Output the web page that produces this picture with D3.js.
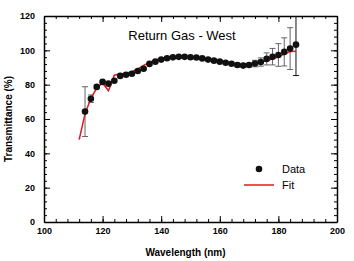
<!DOCTYPE html>
<html>
<head>
<meta charset="utf-8">
<script src="https://cdn.jsdelivr.net/npm/d3@7"></script>
<style>
  body { margin: 0; background: #fff; }
  svg { display: block; font-family: "Liberation Sans", Arial, sans-serif; }
  .axis text { font-weight: bold; font-size: 9px; fill: #000; }
  .axis path, .axis line { stroke: #000; }
</style>
</head>
<body>
<div id="chart"></div>
<script>
//measured points//
var wavelength = [114, 116, 118, 120, 122, 124, 126, 128, 130, 132, 134, 136, 138, 140, 142, 144, 146, 148, 150,
  152, 154, 156, 158, 160, 162, 164, 166, 168, 170, 172, 174, 176, 178, 180, 182, 184, 186];
var transmittance = [64.3, 71.8, 78.7, 81.6, 80.6, 82.3, 85.1, 85.8, 86.4, 88.0, 89.3, 92.1, 93.4, 94.6, 95.4, 95.9, 96.2, 96.2, 96.0,
  95.8, 95.3, 94.6, 94.0, 93.4, 92.8, 92.2, 91.5, 91.1, 91.5, 92.3, 93.2, 95.0, 96.3, 97.3, 99.1, 101.0, 103.3];
var errors = [14.5, 2.2, 0.8, 0.5, 0.5, 0.5, 0.5, 0.5, 0.5, 0.5, 0.5, 0.5, 0.5, 0.5, 0.5, 0.5, 0.5, 0.5, 0.5,
  0.5, 0.5, 0.5, 0.5, 0.5, 0.5, 0.5, 1.0, 1.0, 1.0, 1.9, 2.4, 3.5, 4.8, 6.6, 8.2, 12.2, 18];

//fit curve//
var fitWavelength = [112, 114, 116, 118, 120, 122, 124, 126, 128, 130, 132, 134, 136, 138, 140, 142, 144, 146, 148, 150,
  152, 154, 156, 158, 160, 162, 164, 166, 168, 170, 172, 174, 176, 178, 180, 182, 184, 186];
var fitValues = [48, 63, 72, 78, 81, 76.5, 85.5, 86.2, 86.7, 87.5, 89.2, 91.2, 93, 94.4, 95.3, 95.9, 96.2, 96.3, 96.2, 96.0,
  95.6, 95.0, 94.4, 93.8, 93.2, 92.6, 92.1, 91.6, 91.4, 91.6, 92.2, 93.0, 94.0, 95.0, 96.2, 97.8, 99.3, 99.4];

var xTicks = [100, 120, 140, 160, 180, 200];
var yTicks = [0, 20, 40, 60, 80, 100, 120];
var legendLabels = ["Data", "Fit"];

var w = 354;
var h = 261;
var margin = {top: 16, right: 17, bottom: 39, left: 44};
var iw = w - margin.left - margin.right;
var ih = h - margin.top - margin.bottom;

var svg = d3.select("#chart")
  .append("svg")
  .attr("width", w)
  .attr("height", h);

var g = svg.append("g")
  .attr("transform", "translate(" + margin.left + "," + margin.top + ")");

var x = d3.scaleLinear().domain([100, 200]).range([0, iw]);
var y = d3.scaleLinear().domain([0, 120]).range([ih, 0]);

g.append("clipPath").attr("id", "clip")
  .append("rect").attr("width", iw).attr("height", ih);

//minor ticks every 4 units, on all four sides, pointing in//
var minorX = d3.range(100, 201, 4);
var minorY = d3.range(0, 121, 4);

g.append("g").attr("class", "axis")
  .attr("transform", "translate(0," + ih + ")")
  .call(d3.axisBottom(x).tickValues(minorX).tickSize(-3).tickFormat(""))
  .call(function(s) { s.select(".domain").remove(); });
g.append("g").attr("class", "axis")
  .call(d3.axisTop(x).tickValues(minorX).tickSize(-3).tickFormat(""))
  .call(function(s) { s.select(".domain").remove(); });
g.append("g").attr("class", "axis")
  .call(d3.axisLeft(y).tickValues(minorY).tickSize(-3).tickFormat(""))
  .call(function(s) { s.select(".domain").remove(); });
g.append("g").attr("class", "axis")
  .attr("transform", "translate(" + iw + ",0)")
  .call(d3.axisRight(y).tickValues(minorY).tickSize(-3).tickFormat(""))
  .call(function(s) { s.select(".domain").remove(); });

//major ticks with labels//
g.append("g").attr("class", "axis")
  .attr("transform", "translate(0," + ih + ")")
  .call(d3.axisBottom(x).tickValues(xTicks).tickSize(-6).tickPadding(6).tickSizeOuter(0));
g.append("g").attr("class", "axis")
  .call(d3.axisTop(x).tickValues(xTicks).tickSize(-6).tickFormat("").tickSizeOuter(0));
g.append("g").attr("class", "axis")
  .call(d3.axisLeft(y).tickValues(yTicks).tickSize(-6).tickPadding(9).tickSizeOuter(0));
g.append("g").attr("class", "axis")
  .attr("transform", "translate(" + iw + ",0)")
  .call(d3.axisRight(y).tickValues(yTicks).tickSize(-6).tickFormat("").tickSizeOuter(0));

g.selectAll(".axis line").attr("stroke-width", 1);
g.selectAll(".axis .domain").attr("stroke-width", 1.5);

//error bars//
var pts = wavelength.map(function(d, i) {
  return {x: d, y: transmittance[i], e: errors[i]};
});

var bars = g.append("g").attr("clip-path", "url(#clip)")
  .selectAll("g.err")
  .data(pts)
  .enter()
  .append("g")
  .attr("class", "err")
  .attr("stroke", function(d, i) { return i == pts.length - 1 ? "#111" : "#666"; })
  .attr("stroke-width", 1);

bars.append("line")
  .attr("x1", function(d) { return x(d.x); })
  .attr("x2", function(d) { return x(d.x); })
  .attr("y1", function(d) { return y(d.y + d.e); })
  .attr("y2", function(d) { return y(d.y - d.e); });

bars.append("line")
  .attr("x1", function(d) { return x(d.x) - 3; })
  .attr("x2", function(d) { return x(d.x) + 3; })
  .attr("y1", function(d) { return y(d.y + d.e); })
  .attr("y2", function(d) { return y(d.y + d.e); });

bars.append("line")
  .attr("x1", function(d) { return x(d.x) - 3; })
  .attr("x2", function(d) { return x(d.x) + 3; })
  .attr("y1", function(d) { return y(d.y - d.e); })
  .attr("y2", function(d) { return y(d.y - d.e); });

//fit line//
var line = d3.line()
  .x(function(d, i) { return x(fitWavelength[i]); })
  .y(function(d) { return y(d); });

g.append("path")
  .datum(fitValues)
  .attr("d", line)
  .attr("fill", "none")
  .attr("stroke", "#e8161e")
  .attr("stroke-width", 1.5);

//data points//
g.selectAll("circle.pt")
  .data(pts)
  .enter()
  .append("circle")
  .attr("class", "pt")
  .attr("cx", function(d) { return x(d.x); })
  .attr("cy", function(d) { return y(d.y); })
  .attr("r", 3.3)
  .attr("fill", "#111");

//title//
svg.append("text")
  .attr("x", 182)
  .attr("y", 40)
  .attr("text-anchor", "middle")
  .attr("font-size", "13px")
  .text("Return Gas - West");

//axis titles//
svg.append("text")
  .attr("x", margin.left + iw / 2 - 5)
  .attr("y", 256)
  .attr("text-anchor", "middle")
  .attr("font-size", "10px")
  .attr("font-weight", "bold")
  .text("Wavelength (nm)");

svg.append("text")
  .attr("transform", "translate(12," + (margin.top + ih / 2) + ") rotate(-90)")
  .attr("text-anchor", "middle")
  .attr("font-size", "10px")
  .attr("font-weight", "bold")
  .text("Transmittance (%)");

//legend//
var legend = svg.append("g");
legend.append("circle")
  .attr("cx", 259).attr("cy", 169).attr("r", 3.3).attr("fill", "#111");
legend.append("line")
  .attr("x1", 244).attr("x2", 274).attr("y1", 185).attr("y2", 185)
  .attr("stroke", "#e8161e").attr("stroke-width", 1.5);
legend.selectAll("text")
  .data(legendLabels)
  .enter()
  .append("text")
  .attr("x", 282)
  .attr("y", function(d, i) { return 173 + i * 16; })
  .attr("font-size", "11px")
  .text(function(d) { return d; });
</script>
</body>
</html>
